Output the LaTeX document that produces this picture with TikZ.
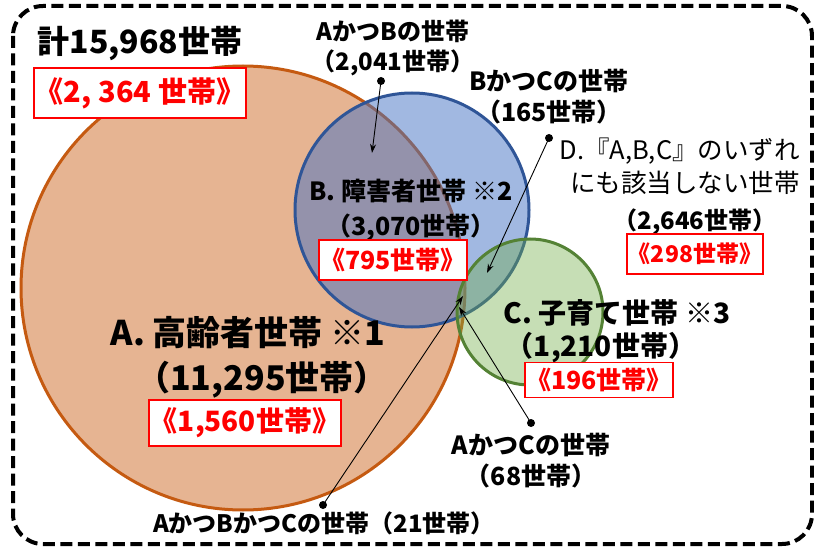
\documentclass[tikz,border=0pt]{standalone}
\usepackage{fontspec}
\setmainfont{Noto Sans CJK JP}
\usetikzlibrary{arrows.meta}
\definecolor{aFill}{RGB}{230,180,146}
\definecolor{aLine}{RGB}{197,90,17}
\definecolor{bFill}{RGB}{68,114,196}
\definecolor{bLine}{RGB}{47,85,151}
\definecolor{cFill}{RGB}{112,173,71}
\definecolor{cLine}{RGB}{84,130,53}
\definecolor{redtxt}{RGB}{255,0,0}
\newcommand\fsz[2]{\fontsize{#1}{#2}\selectfont}
\tikzset{
  frame/.style={line width=4pt, dash pattern=on 12pt off 5.5pt, rounded corners=30pt},
  redbox/.style={draw=redtxt, line width=1.5pt, fill=white, text=redtxt, inner sep=1pt, font=\bfseries},
  lbl/.style={inner sep=0pt, align=center, font=\bfseries},
  ptr/.style={line width=0.9pt, -{Stealth[length=9pt,width=6pt]}},
  dotmark/.style={fill=black},
}
\begin{document}
\begin{tikzpicture}[x=1pt,y=-1pt]
\useasboundingbox (0,0) rectangle (814,548);
\draw[frame] (13,6) rectangle (812,544);
% circles
\draw[line width=3pt, draw=aLine, fill=aFill] (243,288) circle[radius=222];
\draw[line width=3pt, draw=bLine, fill=bFill, fill opacity=0.5] (412,210) circle[radius=117];
\draw[line width=3pt, draw=cLine, fill=cFill, fill opacity=0.4] (530,312) circle[radius=73];
% title
\node[lbl, font=\bfseries\fsz{32}{32}] (total) at (140,43) {計15,968世帯};
\node[redbox, font=\bfseries\fsz{29}{29}, minimum width=191pt, minimum height=50pt] (totalr) at (140,93) {《2, 364 世帯》};
% A
\node[lbl, font=\bfseries\fsz{34}{34}] (aname) at (248,333) {A. 高齢者世帯 ※1};
\node[lbl, font=\bfseries\fsz{34}{34}] (anum) at (262,380) {（11,295世帯）};
\node[redbox, font=\bfseries\fsz{28}{28}, minimum width=180pt, minimum height=46pt] (ared) at (245,423) {《1,560世帯》};
% B
\node[lbl, font=\bfseries\fsz{25}{35}] (bname) at (411,210) {B. 障害者世帯 ※2\\（3,070世帯）};
\node[redbox, font=\bfseries\fsz{25}{25}, minimum width=142pt, minimum height=40pt] (bred) at (393,260) {《795世帯》};
% C
\node[lbl, font=\bfseries\fsz{28}{28}] (cname) at (617,313) {C. 子育て世帯 ※3};
\node[lbl, font=\bfseries\fsz{28}{28}] (cnum) at (601,348) {（1,210世帯）};
\node[redbox, font=\bfseries\fsz{25}{25}, minimum width=142pt, minimum height=35pt] (cred) at (599,380) {《196世帯》};
% D
\node[inner sep=0pt, align=right, anchor=east, font=\fsz{25.5}{33}] (dname) at (800,166) {D.『A,B,C』のいずれ\\にも該当しない世帯};
\node[lbl, font=\bfseries\fsz{24}{24}] (dnum) at (695,222) {（2,646世帯）};
\node[redbox, font=\bfseries\fsz{23}{23}, minimum width=127pt, minimum height=40pt] (dred) at (695,254) {《298世帯》};
% intersection labels
\node[lbl, font=\bfseries\fsz{24}{30}] (labAB) at (393,48) {AかつBの世帯\\（2,041世帯）};
\node[lbl, font=\bfseries\fsz{25}{31}] (labBC) at (549,97) {BかつCの世帯\\（165世帯）};
\node[lbl, font=\bfseries\fsz{25}{31}] (labAC) at (531,461) {AかつCの世帯\\（68世帯）};
\node[lbl, font=\bfseries\fsz{24}{24}] (labABC) at (324,523) {AかつBかつCの世帯（21世帯）};
% pointers
\coordinate (dAB) at (381,81);
\coordinate (tAB) at (372,153);
\coordinate (dBC) at (549,138);
\coordinate (tBC) at (487,273);
\coordinate (dAC) at (531,423);
\coordinate (tAC) at (459,307);
\coordinate (dABC) at (323,505);
\coordinate (tABC) at (463,296);
\draw[ptr] (dAB) -- (tAB);
\draw[ptr] (dBC) -- (tBC);
\draw[ptr] (dAC) -- (tAC);
\draw[ptr] (dABC) -- (tABC);
\foreach \p in {dAB,dBC,dAC,dABC} \fill[dotmark] (\p) circle[radius=4];
\end{tikzpicture}
\end{document}
